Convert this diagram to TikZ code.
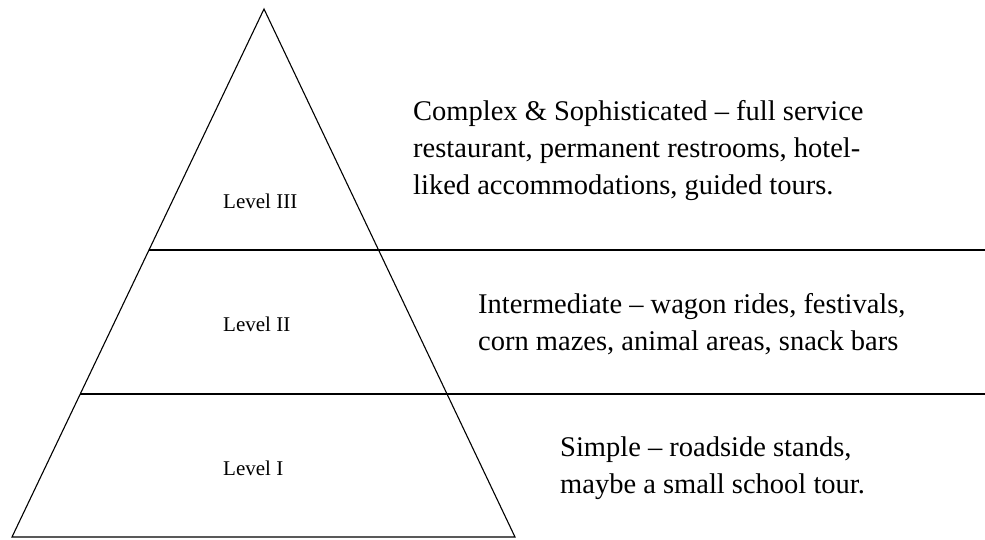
\documentclass[tikz,border=0pt]{standalone}
\usepackage{fontspec}
\setmainfont{Liberation Serif}
\usetikzlibrary{calc}
\begin{document}
\begin{tikzpicture}[x=1pt,y=-1pt] % пирамида уровней
\tikzstyle{side} = [line width=1.1pt] % линии пирамиды
\tikzstyle{level} = [font=\fontsize{21}{25}\selectfont, anchor=base west, inner sep=0pt] % подписи уровней внутри
\tikzstyle{note} = [font=\fontsize{28.5}{37}\selectfont, anchor=base west, align=left, inner sep=0pt] % описания справа (base = последняя строка)

\useasboundingbox (0,0) rectangle (985,539);
\coordinate (top) at (264,9); % вершина
\coordinate (bl) at (12,537); % левый угол основания
\coordinate (br) at (515,537); % правый угол основания
\coordinate (edge) at (985,0); % правый край
\coordinate (l1) at ($(bl)!0.5436!(top)$); % верхняя граница
\coordinate (l2) at ($(bl)!0.2708!(top)$); % нижняя граница

\draw[side] (bl) -- (top) -- (br) -- cycle;
\draw[side] (l1) -- (l1 -| edge);
\draw[side] (l2) -- (l2 -| edge);

\node[level] (lev3) at (223,208) {Level III};
\node[level] (lev2) at (223,331) {Level II};
\node[level] (lev1) at (223,475) {Level I};

\node[note] (desc3) at (413,194) {Complex \& Sophisticated – full service\\restaurant, permanent restrooms, hotel-\\liked accommodations, guided tours.};
\node[note] (desc2) at (478,350) {Intermediate – wagon rides, festivals,\\corn mazes, animal areas, snack bars};
\node[note] (desc1) at (560,493) {Simple – roadside stands,\\maybe a small school tour.};
\end{tikzpicture}
\end{document}
